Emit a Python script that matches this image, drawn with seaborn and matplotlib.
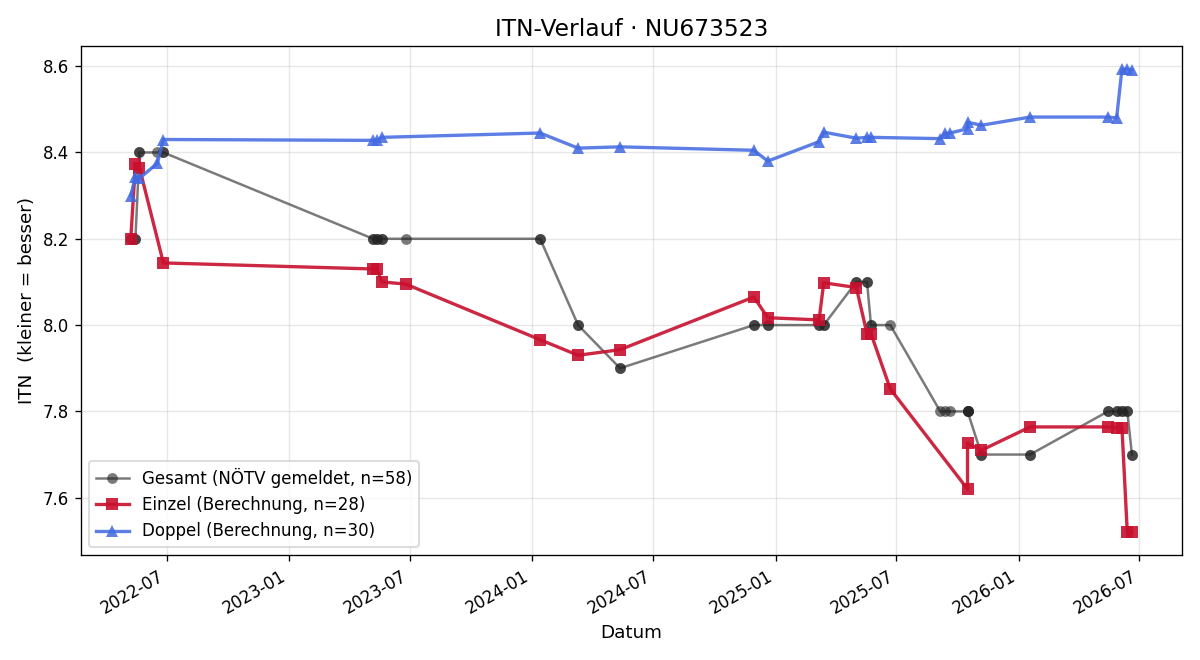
import matplotlib
matplotlib.use("Agg")
import matplotlib.pyplot as plt
import matplotlib.dates as mdates
import seaborn as sns
import pandas as pd

einzel_dates = ["2022-05-08", "2022-05-15", "2022-05-21", "2022-06-26",
                "2023-05-07", "2023-05-13", "2023-05-20", "2023-06-25",
                "2024-01-13", "2024-03-10", "2024-05-12", "2024-11-29",
                "2024-12-20", "2025-03-07", "2025-03-14", "2025-05-02",
                "2025-05-18", "2025-05-24", "2025-06-22", "2025-10-16",
                "2025-10-16", "2025-11-06", "2026-01-18", "2026-05-15",
                "2026-05-28", "2026-06-05", "2026-06-13", "2026-06-20"]
einzel_itn = [8.200, 8.373, 8.365, 8.144,
              8.130, 8.130, 8.100, 8.095,
              7.966, 7.930, 7.943, 8.065,
              8.017, 8.012, 8.098, 8.087,
              7.980, 7.980, 7.852, 7.620,
              7.726, 7.710, 7.764, 7.764,
              7.762, 7.762, 7.520, 7.520]

doppel_dates = ["2022-05-08", "2022-05-15", "2022-05-21", "2022-06-17",
                "2022-06-26", "2023-05-07", "2023-05-13", "2023-05-20",
                "2024-01-13", "2024-03-10", "2024-05-12", "2024-11-29",
                "2024-12-20", "2025-03-07", "2025-03-14", "2025-05-02",
                "2025-05-18", "2025-05-24", "2025-09-05", "2025-09-12",
                "2025-09-20", "2025-10-16", "2025-10-16", "2025-11-06",
                "2026-01-18", "2026-05-15", "2026-05-28", "2026-06-05",
                "2026-06-13", "2026-06-20"]
doppel_itn = [8.300, 8.343, 8.340, 8.375,
              8.430, 8.428, 8.428, 8.435,
              8.445, 8.410, 8.413, 8.405,
              8.380, 8.425, 8.447, 8.433,
              8.435, 8.435, 8.432, 8.444,
              8.445, 8.455, 8.470, 8.463,
              8.482, 8.482, 8.480, 8.593,
              8.593, 8.592]

gesamt_dates = ["2022-05-08", "2022-05-08", "2022-05-15", "2022-05-15",
                "2022-05-21", "2022-05-21", "2022-06-17", "2022-06-26",
                "2022-06-26", "2023-05-07", "2023-05-07", "2023-05-13",
                "2023-05-13", "2023-05-20", "2023-05-20", "2023-06-25",
                "2024-01-13", "2024-01-13", "2024-03-10", "2024-03-10",
                "2024-05-12", "2024-05-12", "2024-11-29", "2024-11-29",
                "2024-12-20", "2024-12-20", "2025-03-07", "2025-03-07",
                "2025-03-14", "2025-03-14", "2025-05-02", "2025-05-02",
                "2025-05-18", "2025-05-18", "2025-05-24", "2025-05-24",
                "2025-06-22", "2025-09-05", "2025-09-12", "2025-09-20",
                "2025-10-16", "2025-10-16", "2025-10-16", "2025-10-16",
                "2025-11-06", "2025-11-06", "2026-01-18", "2026-01-18",
                "2026-05-15", "2026-05-15", "2026-05-28", "2026-05-28",
                "2026-06-05", "2026-06-05", "2026-06-13", "2026-06-13",
                "2026-06-20", "2026-06-20"]
gesamt_itn = [8.2, 8.2, 8.2, 8.2,
              8.4, 8.4, 8.4, 8.4,
              8.4, 8.2, 8.2, 8.2,
              8.2, 8.2, 8.2, 8.2,
              8.2, 8.2, 8.0, 8.0,
              7.9, 7.9, 8.0, 8.0,
              8.0, 8.0, 8.0, 8.0,
              8.0, 8.0, 8.1, 8.1,
              8.1, 8.1, 8.0, 8.0,
              8.0, 7.8, 7.8, 7.8,
              7.8, 7.8, 7.8, 7.8,
              7.7, 7.7, 7.7, 7.7,
              7.8, 7.8, 7.8, 7.8,
              7.8, 7.8, 7.8, 7.8,
              7.7, 7.7]

title = "ITN-Verlauf · NU673523"

g = pd.DataFrame({"Datum": pd.to_datetime(gesamt_dates), "ITN": gesamt_itn})
e = pd.DataFrame({"Datum": pd.to_datetime(einzel_dates), "ITN": einzel_itn})
d = pd.DataFrame({"Datum": pd.to_datetime(doppel_dates), "ITN": doppel_itn})

fig, ax = plt.subplots(figsize=(10, 5.5), dpi=120)

sns.lineplot(data=g, x="Datum", y="ITN", ax=ax, estimator=None, sort=False,
             color="#222222", alpha=0.6, linewidth=1.5, marker="o",
             markersize=6.5, markeredgewidth=0,
             label=f"Gesamt (NÖTV gemeldet, n={len(g)})")
sns.lineplot(data=e, x="Datum", y="ITN", ax=ax, estimator=None, sort=False,
             color="#c8102e", alpha=0.9, linewidth=2.0, marker="s",
             markersize=7, markeredgewidth=0,
             label=f"Einzel (Berechnung, n={len(e)})")
sns.lineplot(data=d, x="Datum", y="ITN", ax=ax, estimator=None, sort=False,
             color="#4169e1", alpha=0.85, linewidth=2.0, marker="^",
             markersize=7, markeredgewidth=0,
             label=f"Doppel (Berechnung, n={len(d)})")

ax.set_title(title, fontsize=14)
ax.set_xlabel("Datum", fontsize=11)
ax.set_ylabel("ITN  (kleiner = besser)", fontsize=11)
ax.grid(True, alpha=0.3)
ax.xaxis.set_major_locator(mdates.MonthLocator(bymonth=[1, 7]))
ax.xaxis.set_major_formatter(mdates.DateFormatter("%Y-%m"))
ax.legend(loc="lower left", fontsize=10)
fig.autofmt_xdate()
fig.tight_layout()
fig.savefig("out.png", dpi=120)
